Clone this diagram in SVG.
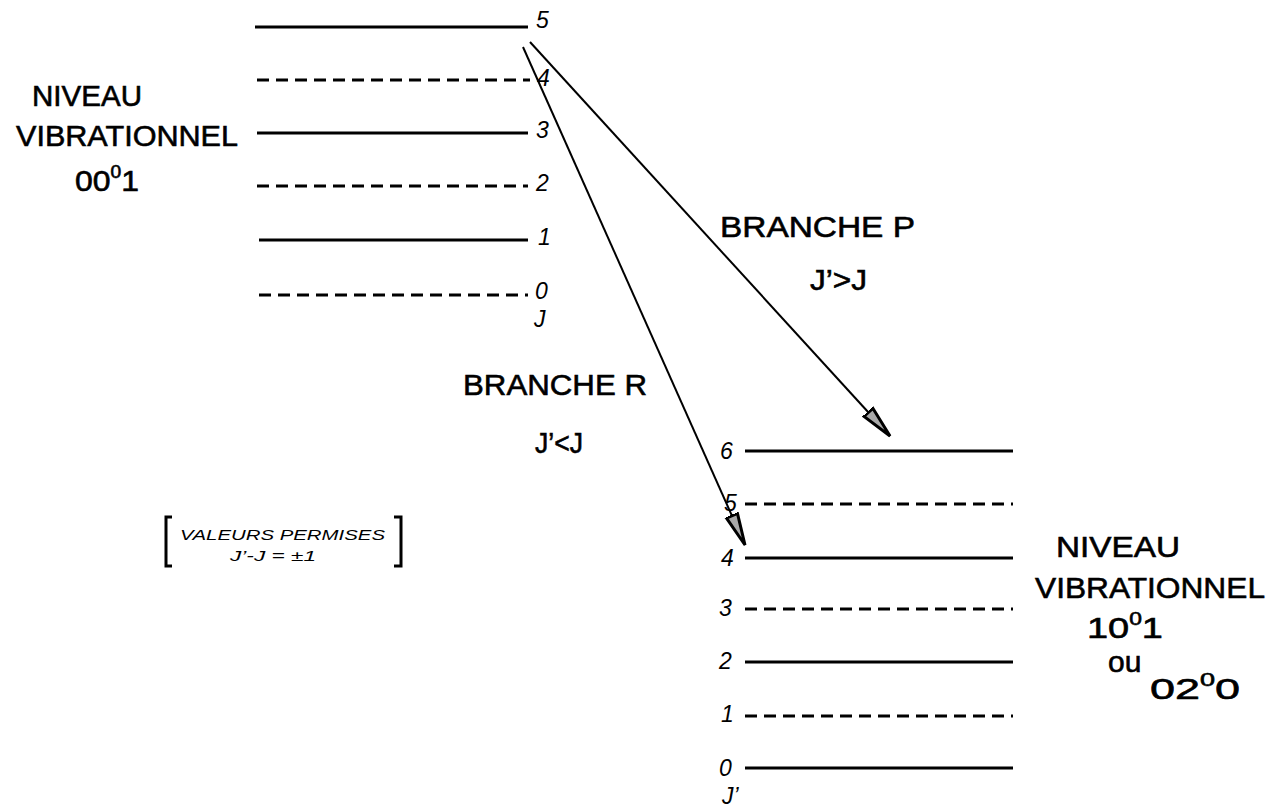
<svg xmlns="http://www.w3.org/2000/svg" width="1268" height="807" viewBox="0 0 1268 807">
<defs>
<style>
.solid{stroke:#000;stroke-width:3;fill:none}
.dash{stroke:#000;stroke-width:3;fill:none;stroke-dasharray:12,7}
.num{font-family:"Liberation Sans",Arial,sans-serif;font-style:italic;font-size:23px;fill:#000}
.lbl{font-family:"Liberation Sans",Arial,sans-serif;font-size:30px;fill:#000;stroke:#000;stroke-width:0.6}
.br{font-family:"Liberation Sans",Arial,sans-serif;font-size:30px;fill:#000;stroke:#000;stroke-width:0.6}
.small{font-family:"Liberation Sans",Arial,sans-serif;font-style:italic;font-size:15px;fill:#000}
.arrow{stroke:#000;stroke-width:2;fill:none}
</style>
<marker id="head" viewBox="0 0 34 16" refX="33" refY="8" markerWidth="34" markerHeight="16" markerUnits="userSpaceOnUse" orient="auto">
<path d="M1,2 L33,8 L1,14 Z" fill="#aaa" stroke="#000" stroke-width="3"/>
</marker>
</defs>
<rect width="1268" height="807" fill="#fff"/>

<g id="upper-level">
<line class="solid" x1="255" y1="27" x2="528" y2="27"/>
<line class="dash" x1="257" y1="80" x2="530" y2="80"/>
<line class="solid" x1="257" y1="133" x2="528" y2="133"/>
<line class="dash" x1="257" y1="186" x2="528" y2="186"/>
<line class="solid" x1="259" y1="240" x2="528" y2="240"/>
<line class="dash" x1="259" y1="295" x2="528" y2="295"/>
<text class="num" x="536" y="28">5</text>
<text class="num" x="537" y="86">4</text>
<text class="num" x="536" y="138">3</text>
<text class="num" x="536" y="191">2</text>
<text class="num" x="538" y="245">1</text>
<text class="num" x="535" y="299">0</text>
<text class="num" x="534" y="327">J</text>
</g>

<g id="upper-label">
<text class="lbl" x="32" y="106" textLength="110" lengthAdjust="spacingAndGlyphs">NIVEAU</text>
<text class="lbl" x="16" y="146" textLength="222" lengthAdjust="spacingAndGlyphs">VIBRATIONNEL</text>
<text class="lbl" x="75" y="191" textLength="64" lengthAdjust="spacingAndGlyphs">00<tspan font-size="18" dy="-13">0</tspan><tspan dy="13">1</tspan></text>
</g>

<g id="lower-level">
<line class="solid" x1="745" y1="451" x2="1013" y2="451"/>
<line class="dash" x1="745" y1="504" x2="1013" y2="504"/>
<line class="solid" x1="745" y1="558" x2="1013" y2="558"/>
<line class="dash" x1="745" y1="609" x2="1013" y2="609"/>
<line class="solid" x1="745" y1="662" x2="1013" y2="662"/>
<line class="dash" x1="745" y1="716" x2="1013" y2="716"/>
<line class="solid" x1="745" y1="768" x2="1013" y2="768"/>
<text class="num" x="720" y="459">6</text>
<text class="num" x="724" y="511">5</text>
<text class="num" x="721" y="566">4</text>
<text class="num" x="719" y="616">3</text>
<text class="num" x="719" y="669">2</text>
<text class="num" x="721" y="722">1</text>
<text class="num" x="719" y="776">0</text>
<text class="num" x="722" y="804">J’</text>
</g>

<g id="lower-label">
<text class="lbl" x="1056" y="557" textLength="124" lengthAdjust="spacingAndGlyphs">NIVEAU</text>
<text class="lbl" x="1035" y="598" textLength="230" lengthAdjust="spacingAndGlyphs">VIBRATIONNEL</text>
<text class="lbl" x="1087" y="638" textLength="76" lengthAdjust="spacingAndGlyphs">10<tspan font-size="18" dy="-13">0</tspan><tspan dy="13">1</tspan></text>
<text class="lbl" x="1108" y="672" font-size="21">ou</text>
<text class="lbl" x="1150" y="699" textLength="90" lengthAdjust="spacingAndGlyphs">02<tspan font-size="18" dy="-13">0</tspan><tspan dy="13">0</tspan></text>
</g>

<g id="connectors">
<line class="arrow" x1="530" y1="42" x2="890" y2="436" marker-end="url(#head)"/>
<line class="arrow" x1="523" y1="47" x2="745" y2="545" marker-end="url(#head)"/>
</g>

<g id="branch-p">
<text class="br" x="720" y="237" textLength="195" lengthAdjust="spacingAndGlyphs">BRANCHE  P</text>
<text class="br" x="810" y="290" textLength="57" lengthAdjust="spacingAndGlyphs">J’&gt;J</text>
</g>

<g id="branch-r">
<text class="br" x="463" y="395" font-size="26" textLength="184" lengthAdjust="spacingAndGlyphs">BRANCHE  R</text>
<text class="br" x="535" y="453" font-size="25" textLength="48" lengthAdjust="spacingAndGlyphs">J’&lt;J</text>
</g>

<g id="allowed-values">
<path d="M172,517 L166,517 L166,566 L172,566" class="solid" stroke-width="2.5"/>
<path d="M394,517 L401,517 L401,566 L394,566" class="solid" stroke-width="2.5"/>
<text class="small" x="180" y="540" textLength="205" lengthAdjust="spacingAndGlyphs">VALEURS  PERMISES</text>
<text class="small" x="230" y="561" textLength="86" lengthAdjust="spacingAndGlyphs">J’-J = ±1</text>
</g>
</svg>
